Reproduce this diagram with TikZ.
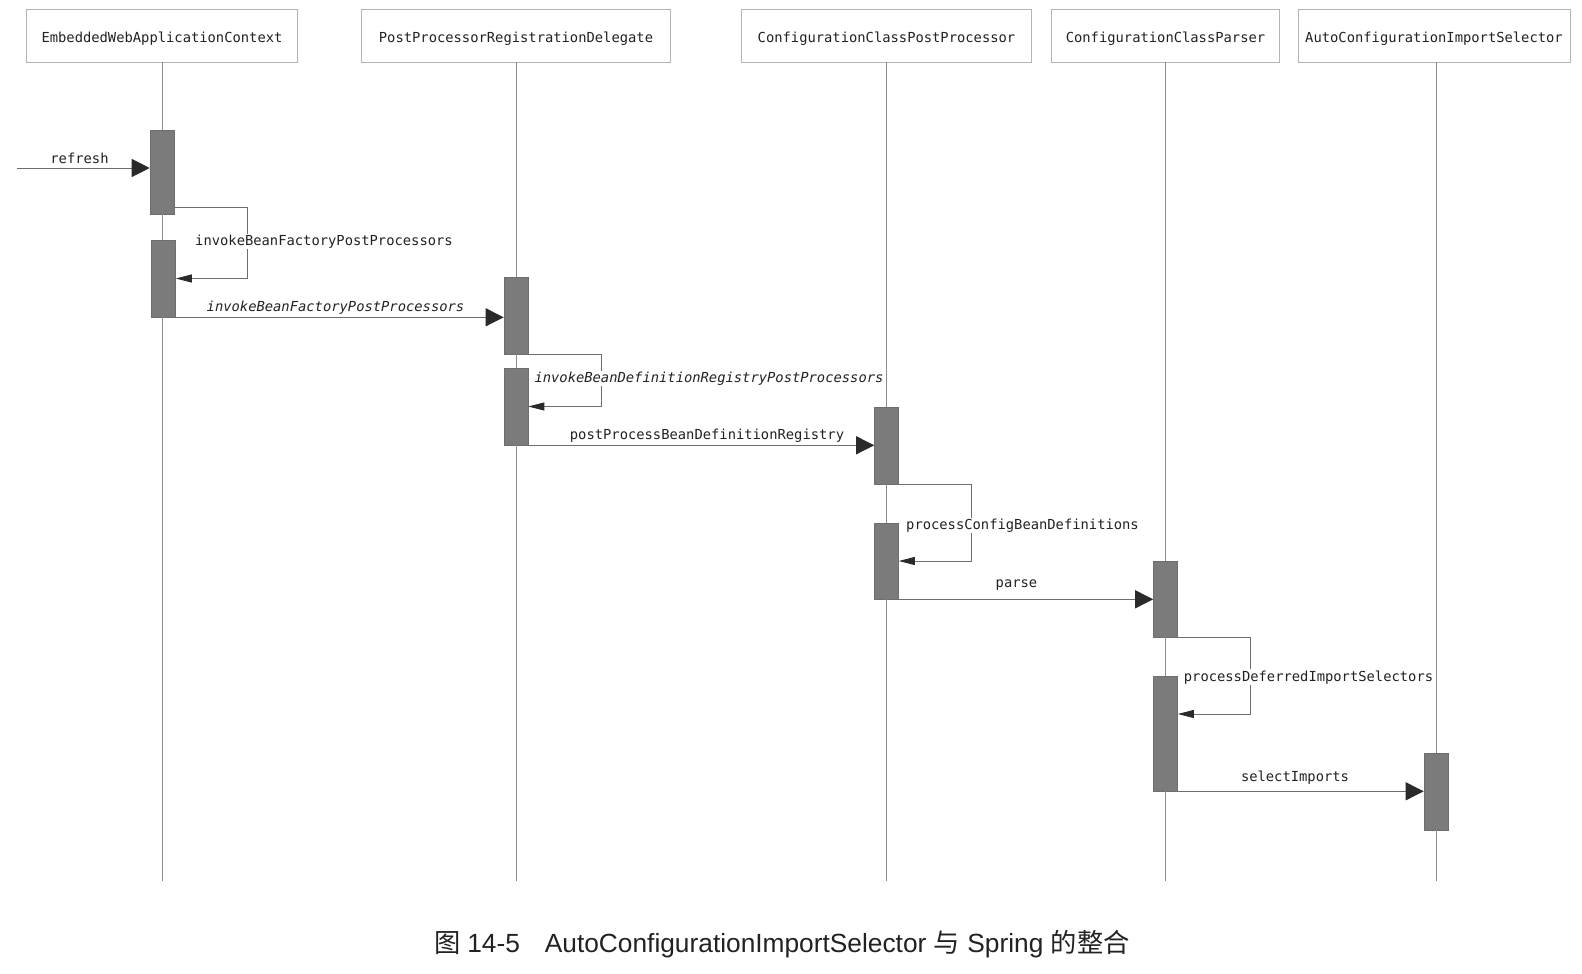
\documentclass[tikz,border=0pt]{standalone}
\usepackage{fontspec}
\setmonofont{DejaVu Sans Mono}[ItalicFont={DejaVu Sans Mono Oblique}]
\newfontfamily\capfont{Liberation Sans}
\newfontfamily\cjkfont{Noto Sans CJK SC}
\usetikzlibrary{arrows.meta}
\definecolor{boxgray}{HTML}{B4B4B4}
\definecolor{lifegray}{HTML}{8C8C8C}
\definecolor{msggray}{HTML}{6E6E6E}
\definecolor{barfill}{HTML}{7B7B7B}
\definecolor{bardraw}{HTML}{6E6E6E}
\definecolor{tipcol}{HTML}{2A2A2A}
\definecolor{txt}{HTML}{222222}
\tikzset{
  head/.style={draw=boxgray, line width=0.8pt, fill=white, text=txt,
    font=\ttfamily\fontsize{13.8}{16}\selectfont, minimum height=53pt, inner sep=0pt,
    text height=14pt, text depth=0.4pt},
  actbar/.style={draw=bardraw, fill=barfill, line width=0.6pt, minimum width=24pt, inner sep=0pt},
  life/.style={draw=lifegray, line width=0.8pt},
  msg/.style={draw=msggray, line width=0.9pt, -{Triangle[length=18pt,width=18pt,color=tipcol]}},
  selfmsg/.style={draw=msggray, line width=0.9pt, -{Triangle[length=16pt,width=8pt,color=tipcol]}},
  lbl/.style={font=\ttfamily\fontsize{13.8}{16}\selectfont, text=txt, inner sep=1pt, anchor=base},
  ilbl/.style={lbl, font=\ttfamily\itshape\fontsize{13.8}{16}\selectfont},
  slbl/.style={lbl, fill=white},
  islbl/.style={ilbl, fill=white},
  captext/.style={font=\capfont\fontsize{26.3}{30}\selectfont, text=txt, inner sep=0pt, anchor=base}
}
\begin{document}
\begin{tikzpicture}[x=1pt,y=-1pt]
\useasboundingbox[fill=white] (0,0) rectangle (1582,974);
% headers
\node[head, minimum width=271pt] (h1) at (162,35.5) {EmbeddedWebApplicationContext};
\node[head, minimum width=309pt] (h2) at (516,35.5) {PostProcessorRegistrationDelegate};
\node[head, minimum width=290pt] (h3) at (886.5,35.5) {ConfigurationClassPostProcessor};
\node[head, minimum width=228pt] (h4) at (1165.5,35.5) {ConfigurationClassParser};
\node[head, minimum width=272pt] (h5) at (1434,35.5) {AutoConfigurationImportSelector};
\coordinate (lifeend) at (0,881);
% activation bars
\node[actbar, minimum height=84pt] (a1) at (162,172) {};
\node[actbar, minimum height=77pt] (a2) at (163.5,278.5) {};
\node[actbar, minimum height=77pt] (b1) at (516,315.5) {};
\node[actbar, minimum height=77pt] (b2) at (516,406.5) {};
\node[actbar, minimum height=77pt] (c1) at (886.5,445.5) {};
\node[actbar, minimum height=76pt] (c2) at (886.5,561) {};
\node[actbar, minimum height=76pt] (d1) at (1165.5,599) {};
\node[actbar, minimum height=115pt] (d2) at (1165.5,733.5) {};
\node[actbar, minimum height=77pt] (e1) at (1436,791.5) {};
% lifelines (segments between bars)
\draw[life] (h1.south) -- (h1.south |- a1.north);
\draw[life] (a1.south) -- (a1.south |- a2.north);
\draw[life] (a1.south |- a2.south) -- (a1.south |- lifeend);
\draw[life] (h2.south) -- (b1.north);
\draw[life] (b1.south) -- (b2.north);
\draw[life] (b2.south) -- (b2.south |- lifeend);
\draw[life] (h3.south) -- (c1.north);
\draw[life] (c1.south) -- (c2.north);
\draw[life] (c2.south) -- (c2.south |- lifeend);
\draw[life] (h4.south) -- (d1.north);
\draw[life] (d1.south) -- (d2.north);
\draw[life] (d2.south) -- (d2.south |- lifeend);
\draw[life] (e1 |- h5.south) -- (e1.north);
\draw[life] (e1.south) -- (e1 |- lifeend);
% messages
\coordinate (src) at (17,168);
\draw[msg] (src) -- (src -| a1.west);
\draw[selfmsg] ([yshift=7pt]a1.south east) -- ++(73,0) |- (a2.east);
\draw[msg] (a2.south east) -- (a2.south east -| b1.west);
\draw[selfmsg] (b1.south east) -- ++(73,0) |- (b2.east);
\draw[msg] (b2.south east) -- (b2.south east -| c1.west);
\draw[selfmsg] (c1.south east) -- ++(73,0) |- (c2.east);
\draw[msg] (c2.south east) -- (c2.south east -| d1.west);
\draw[selfmsg] (d1.south east) -- ++(73,0) |- ([yshift=19.5pt]d2.east);
\draw[msg] (d2.south east) -- (d2.south east -| e1.west);
% labels
\node[lbl] (l0) at (79.5,163) {refresh};
\node[slbl] (l1) at (324,245) {invokeBeanFactoryPostProcessors};
\node[ilbl] (l2) at (335.5,311) {invokeBeanFactoryPostProcessors};
\node[islbl] (l3) at (709,382) {invokeBeanDefinitionRegistryPostProcessors};
\node[lbl] (l4) at (707,439) {postProcessBeanDefinitionRegistry};
\node[slbl] (l5) at (1022.5,529) {processConfigBeanDefinitions};
\node[lbl] (l6) at (1016.5,587) {parse};
\node[slbl] (l7) at (1308.5,681) {processDeferredImportSelectors};
\node[lbl] (l8) at (1295,781) {selectImports};
% caption
\node[captext] (caption) at (782,952) {{\cjkfont 图}\hspace{0.25em}14-5\hspace{0.95em}AutoConfigurationImportSelector {\cjkfont 与} Spring {\cjkfont 的整合}};
\end{tikzpicture}
\end{document}
